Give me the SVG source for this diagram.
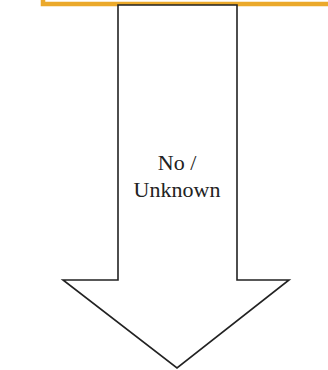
<svg xmlns="http://www.w3.org/2000/svg" width="328" height="370" viewBox="0 0 328 370">
<style>
.frame{fill:none;stroke:#EBA92B;stroke-width:4.5}
.arrow{fill:#fff;stroke:#222;stroke-width:1.6;stroke-linejoin:miter}
.lbl{font-family:"Liberation Serif","DejaVu Serif","Times New Roman",serif;font-size:22px;fill:#222;text-anchor:middle}
</style>
<rect width="328" height="370" fill="#fff"/>
<g id="box-above">
<path class="frame" d="M43,-2 V4 H330"/>
</g>
<g id="arrow-no">
<path class="arrow" d="M118,5 H237 V280 H289 L177,368 L63,280 H118 Z"/>
<text class="lbl" x="177" y="170">No /</text>
<text class="lbl" x="177" y="197">Unknown</text>
</g>
</svg>
